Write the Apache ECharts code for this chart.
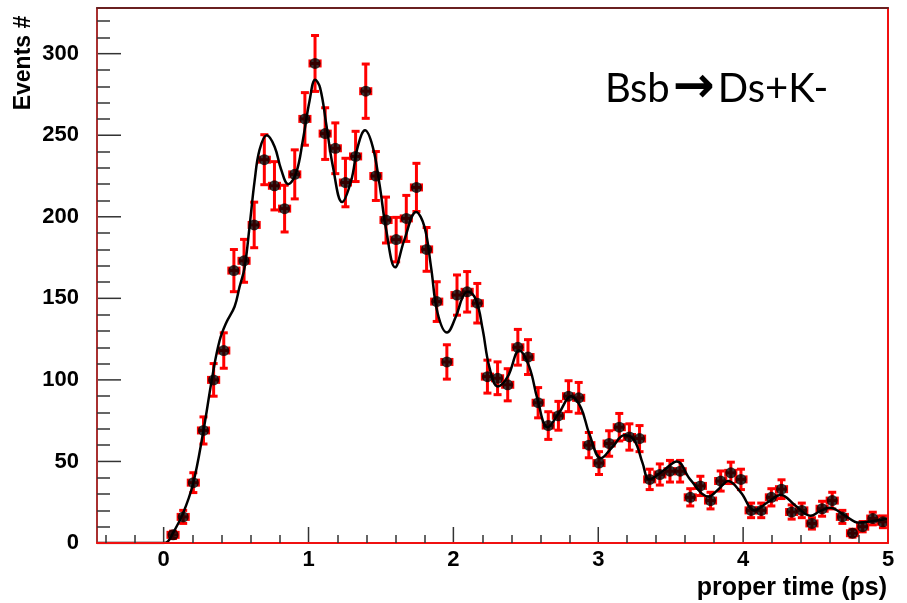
<!DOCTYPE html>
<html>
<head>
<meta charset="utf-8">
<title>Bsb → Ds+K- proper time</title>
<script src="https://cdn.jsdelivr.net/npm/echarts@6/dist/echarts.min.js"></script>
<style>
  html, body { margin: 0; padding: 0; background: #fff; }
  #chart { width: 907px; height: 603px; }
</style>
</head>
<body>
<div id="chart"></div>
<script>
// Histogram binning of the proper-time distribution (ps)
const binLow = 0.03;
const binWidth = 0.07;

// Events per bin
const counts = [
  5, 16, 37, 69, 100, 118, 167, 173, 195, 235,
  219, 205, 226, 260, 294, 251, 242, 221, 237, 277,
  225, 198, 186, 199, 218, 180, 148, 111, 152, 154,
  147, 102, 101, 97, 120, 114, 86, 72, 78, 90,
  89, 60, 49, 61, 71, 65, 64, 39, 42, 44,
  44, 28, 35, 26, 38, 43, 39, 20, 20, 28,
  33, 19, 20, 12, 21, 26, 16, 6, 10, 15,
  13
];

// Fitted curve (proper time, events)
const fitT = [
  -0.46, -0.2, 0.0, 0.03, 0.064, 0.133, 0.202, 0.271, 0.34, 0.386,
  0.432, 0.49, 0.524, 0.559, 0.593, 0.628, 0.662, 0.712, 0.766, 0.811,
  0.86, 0.915, 0.961, 1.007, 1.046, 1.08, 1.122, 1.168, 1.232, 1.294,
  1.34, 1.39, 1.443, 1.49, 1.536, 1.598, 1.662, 1.743, 1.8, 1.846,
  1.891, 1.956, 2.018, 2.065, 2.099, 2.156, 2.202, 2.248, 2.306, 2.375,
  2.455, 2.524, 2.581, 2.65, 2.731, 2.812, 2.88, 2.938, 3.019, 3.099,
  3.179, 3.248, 3.306, 3.352, 3.444, 3.543, 3.634, 3.763, 3.83, 3.897,
  3.984, 4.078, 4.17, 4.26, 4.36, 4.467, 4.53, 4.6, 4.7, 4.8,
  4.9, 5.0
];
const fitV = [
  0, 0, 0, 1, 6, 18, 36, 67, 104, 124,
  135, 145, 157, 169, 194, 222, 241, 250, 243, 229,
  220, 227, 247, 271, 284, 279, 257, 231, 209, 222,
  243, 253, 243, 220, 192, 169, 186, 203, 194, 169,
  141, 129, 139, 151, 154, 149, 131, 108, 96, 102,
  118, 108, 88, 71, 80, 90, 83, 67, 52, 59,
  66, 63, 49, 39, 44, 50, 39, 28.5, 33, 38,
  31, 20, 25, 29.5, 23, 16.7, 19.5, 21.6, 17, 12.5,
  13.5, 15
];

// Axis ticks and labels
const xLabels = [0, 1, 2, 3, 4, 5];
const xMinor = [-0.4, -0.2, 0.2, 0.4, 0.6, 0.8, 1.2, 1.4, 1.6, 1.8, 2.2, 2.4, 2.6, 2.8,
                3.2, 3.4, 3.6, 3.8, 4.2, 4.4, 4.6, 4.8];
const yLabels = [0, 50, 100, 150, 200, 250, 300];
const yMinor = [10, 20, 30, 40, 60, 70, 80, 90, 110, 120, 130, 140, 160, 170, 180, 190,
                210, 220, 230, 240, 260, 270, 280, 290, 310, 320];

const X_MIN = -0.46, X_MAX = 5, Y_MIN = 0, Y_MAX = 328;

const times = counts.map((_, i) => +(binLow + binWidth * (i + 0.5)).toFixed(4));
// Poisson uncertainty on each bin
const points = counts.map((c, i) => [times[i], c, Math.sqrt(c)]);
const fitData = fitT.map((t, i) => [t, fitV[i]]);

const labelFont = {
  fontFamily: '"Liberation Sans", Arial, Helvetica, sans-serif',
  fontWeight: 'bold',
  fontSize: 22,
  color: '#000'
};
const TICK_COLOR = '#333';
const tickStyle = { color: TICK_COLOR, width: 1.5 };

// Plain value axis sharing the frame; each one carries a single feature
function valueAxis(extra) {
  return Object.assign({
    type: 'value',
    z: 6,
    splitLine: { show: false },
    axisLabel: { show: false },
    axisTick: { show: false },
    axisLine: { show: false, onZero: false }
  }, extra);
}

// Long frame ticks at the labelled values, drawn inward from the frame edge
function frameTicks(name, data, dir, length) {
  return {
    name, type: 'custom', xAxisIndex: 0, yAxisIndex: 0,
    data, encode: { x: 0, y: 1 }, clip: false, silent: true, z: 6,
    renderItem: function (params, api) {
      const p = api.coord([api.value(0), api.value(1)]);
      const x2 = dir === 'up' ? p[0] : p[0] + length;
      const y2 = dir === 'up' ? p[1] - length : p[1];
      return {
        type: 'line',
        shape: { x1: p[0], y1: p[1], x2, y2 },
        style: { stroke: TICK_COLOR, lineWidth: 1.5 }
      };
    }
  };
}

const chart = echarts.init(document.getElementById('chart'), null, { renderer: 'canvas' });

chart.setOption({
  animation: false,
  backgroundColor: '#fff',
  grid: { left: 97, right: 19, top: 8, bottom: 60, show: false },
  xAxis: [
    valueAxis({
      position: 'bottom', min: X_MIN, max: X_MAX,
      axisLine: { show: true, onZero: false, lineStyle: { color: '#f01010', width: 2 } },
      axisLabel: { show: true, customValues: xLabels, margin: 6, ...labelFont }
    }),
    valueAxis({
      position: 'bottom', min: X_MIN, max: X_MAX,
      axisTick: { show: true, inside: true, length: 8, customValues: xMinor, lineStyle: tickStyle }
    }),
    valueAxis({
      position: 'top', min: X_MIN, max: X_MAX,
      axisLine: { show: true, onZero: false, lineStyle: { color: '#6a2020', width: 2 } }
    })
  ],
  yAxis: [
    valueAxis({
      position: 'left', min: Y_MIN, max: Y_MAX,
      axisLine: { show: true, onZero: false, lineStyle: { color: '#a83030', width: 2 } },
      axisLabel: { show: true, customValues: yLabels, margin: 18, ...labelFont }
    }),
    valueAxis({
      position: 'left', min: Y_MIN, max: Y_MAX,
      axisTick: { show: true, inside: true, length: 13, customValues: yMinor, lineStyle: tickStyle }
    }),
    valueAxis({
      position: 'right', min: Y_MIN, max: Y_MAX,
      axisLine: { show: true, onZero: false, lineStyle: { color: '#f01010', width: 2 } }
    })
  ],
  graphic: [
    {
      type: 'text', x: 24, y: 63, rotation: Math.PI / 2,
      style: {
        text: 'Events #', align: 'center', verticalAlign: 'middle',
        font: 'bold 23px "Liberation Sans", Arial, sans-serif', fill: '#000'
      }
    },
    {
      type: 'text', x: 887, y: 588,
      style: {
        text: 'proper time (ps)', align: 'right', verticalAlign: 'middle',
        font: 'bold 25px "Liberation Sans", Arial, sans-serif', fill: '#000'
      }
    },
    {
      type: 'text', x: 605, y: 89,
      style: {
        text: '{t|Bsb}{a|→}{t|Ds+K-}',
        verticalAlign: 'middle', align: 'left',
        rich: {
          t: { fontFamily: 'Lato, "Open Sans", sans-serif', fontSize: 40, fill: '#000' },
          a: { fontFamily: '"DejaVu Sans", sans-serif', fontWeight: 'bold', fontSize: 50,
               fill: '#000', padding: [0, 3, 0, 3] }
        }
      }
    }
  ],
  series: [
    frameTicks('x ticks', xLabels.map(v => [v, Y_MIN]), 'up', 16),
    frameTicks('y ticks', yLabels.map(v => [X_MIN, v]), 'right', 24),
    {
      name: 'errors',
      type: 'custom',
      xAxisIndex: 0, yAxisIndex: 0,
      data: points,
      encode: { x: 0, y: 1 },
      z: 2,
      clip: true,
      renderItem: function (params, api) {
        const t = api.value(0), v = api.value(1), e = api.value(2);
        const c = api.coord([t, v]);
        const top = api.coord([t, v + e]);
        const bot = api.coord([t, Math.max(v - e, 0)]);
        const l = api.coord([t - binWidth / 2, v]);
        const r = api.coord([t + binWidth / 2, v]);
        const cap = 4;
        const st = { stroke: '#ff0000', lineWidth: 3 };
        const seg = (x1, y1, x2, y2) => ({ type: 'line', shape: { x1, y1, x2, y2 }, style: st });
        return {
          type: 'group',
          children: [
            seg(c[0], top[1], c[0], bot[1]),
            seg(c[0] - cap, top[1], c[0] + cap, top[1]),
            seg(c[0] - cap, bot[1], c[0] + cap, bot[1]),
            seg(l[0], c[1], r[0], c[1]),
            seg(l[0], c[1] - cap, l[0], c[1] + cap),
            seg(r[0], c[1] - cap, r[0], c[1] + cap)
          ]
        };
      }
    },
    {
      name: 'data',
      type: 'scatter',
      xAxisIndex: 0, yAxisIndex: 0,
      data: points.map(p => [p[0], p[1]]),
      symbol: 'circle',
      symbolSize: 11,
      itemStyle: { color: '#000' },
      z: 3
    },
    {
      name: 'fit',
      type: 'line',
      xAxisIndex: 0, yAxisIndex: 0,
      data: fitData,
      smooth: 0.4,
      showSymbol: false,
      symbol: 'none',
      lineStyle: { color: '#000', width: 2.5 },
      z: 4
    }
  ]
});
</script>
</body>
</html>
